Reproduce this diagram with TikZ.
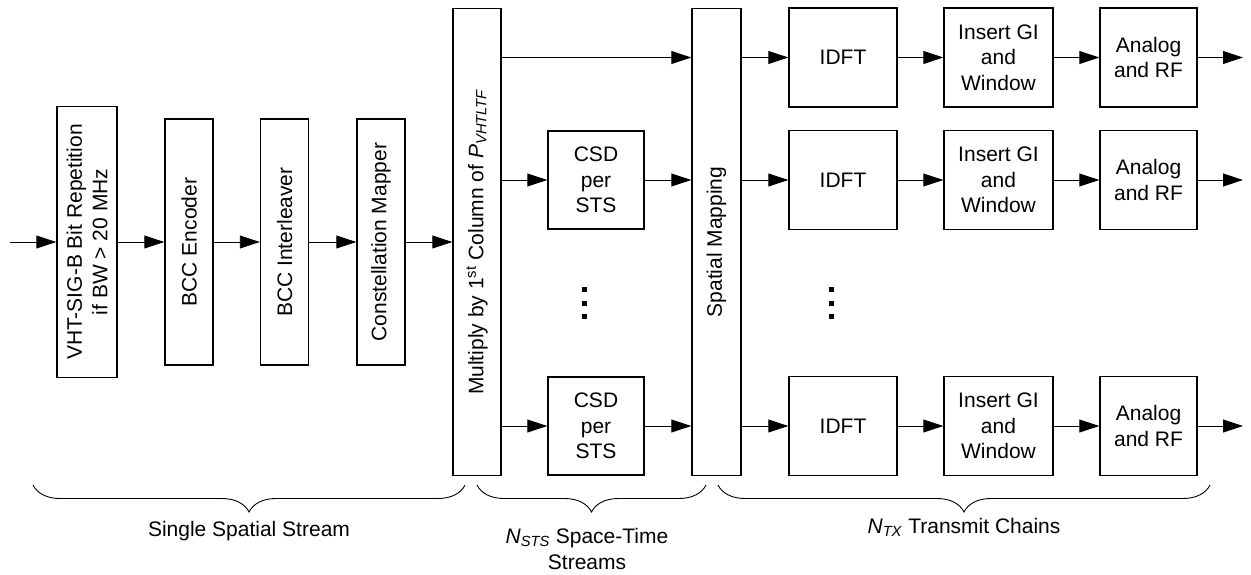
\documentclass[tikz,border=0pt]{standalone}
\usepackage{fontspec}
\setmainfont{Liberation Sans}
\usetikzlibrary{arrows.meta,decorations.pathreplacing}
\tikzset{
  blk/.style={draw, line width=1.4pt, inner sep=0pt, align=center},
  vblk/.style={blk, rotate=90},
  flow/.style={-{Triangle[length=20pt,width=13pt]}, line width=0.9pt},
  grpbrace/.style={decorate, decoration={brace, amplitude=27pt}, line width=0.9pt}
}

\begin{document}
\begin{tikzpicture}[x=1pt,y=-1pt,every node/.style={font=\fontsize{21}{25.5}\selectfont}]
  \useasboundingbox (0,0) rectangle (1251,575);
  % single spatial stream
  \coordinate (in) at (10,242);
  \node[vblk, minimum width=271pt, minimum height=60pt] (rep) at (87,242) {VHT-SIG-B Bit Repetition\\if BW > 20 MHz};
  \node[vblk, minimum width=246pt, minimum height=48pt] (enc) at (189,242) {BCC Encoder};
  \node[vblk, minimum width=246pt, minimum height=48pt] (intl) at (284.5,242) {BCC Interleaver};
  \node[vblk, minimum width=246pt, minimum height=48pt] (cmap) at (381,242) {Constellation Mapper};
  \node[vblk, minimum width=467pt, minimum height=48pt] (mult) at (477,242) {Multiply by 1\textsuperscript{st} Column of \textit{P}\textsubscript{\textit{VHTLTF}}};
  \node[vblk, minimum width=467pt, minimum height=49pt] (smap) at (716.5,242) {Spatial Mapping};
  \foreach \a/\b in {in/rep,rep/enc,enc/intl,intl/cmap,cmap/mult}
    \draw[flow] (\a) -- (\b);
  % space-time streams
  \foreach \n/\y in {1/180,2/426}{
    \node[blk, minimum width=96pt, minimum height=98pt] (csd\n) at (596,\y) {CSD\\per\\STS};
    \draw[flow] (csd\n -| mult.south) -- (csd\n);
    \draw[flow] (csd\n) -- (csd\n -| smap.north);
  }
  % transmit chains
  \foreach \i/\y in {1/57.5,2/180,3/426}{
    \node[blk, minimum width=108pt, minimum height=99pt] (idft\i) at (843,\y) {IDFT};
    \node[blk, minimum width=109pt, minimum height=99pt] (gi\i) at (998.5,\y) {Insert GI\\and\\Window};
    \node[blk, minimum width=97pt, minimum height=99pt] (rf\i) at (1148.5,\y) {Analog\\and RF};
    \coordinate (out\i) at (1243,\y);
    \draw[flow] (idft\i -| smap.south) -- (idft\i);
    \draw[flow] (idft\i) -- (gi\i);
    \draw[flow] (gi\i) -- (rf\i);
    \draw[flow] (rf\i) -- (out\i);
  }
  \draw[flow] (idft1 -| mult.south) -- (idft1 -| smap.north);
  % dots
  \foreach \x in {584,831}
    \foreach \y in {289,303,316}
      \fill (\x-2.5,\y-2.5) rectangle +(5,5);
  % braces
  \draw[grpbrace] (465,485) -- (33,485);
  \draw[grpbrace] (706,485) -- (477,485);
  \draw[grpbrace] (1210,485) -- (718,485);
  \node[align=center] (lblsss) at (249,531) {Single Spatial Stream};
  \node[align=center] (lblsts) at (587,549) {\textit{N}\textsubscript{\textit{STS}} Space-Time\\Streams};
  \node[align=center] (lbltx) at (964,527) {\textit{N}\textsubscript{\textit{TX}} Transmit Chains};
\end{tikzpicture}
\end{document}
